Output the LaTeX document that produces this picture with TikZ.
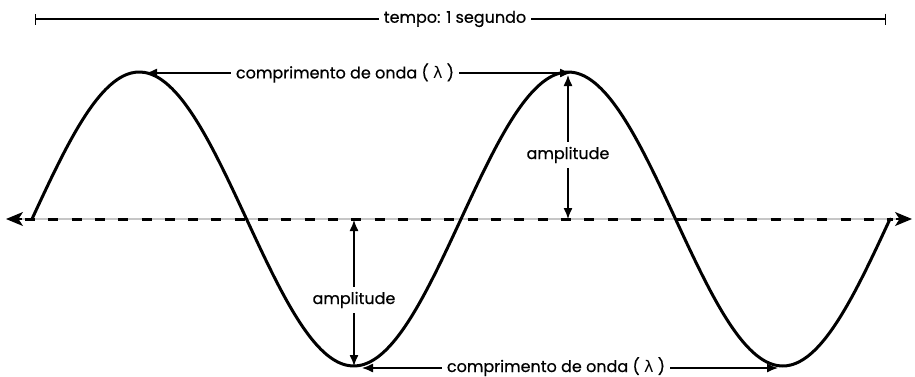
\documentclass[tikz,border=0pt]{standalone}
\usepackage{fontspec}
\setmainfont{Poppins}[FakeBold=0.6]
\newfontfamily\gk{DejaVu Sans}
\usetikzlibrary{arrows.meta}
\tikzset{axtip/.tip={Stealth[length=17pt,width=14pt,inset=4.5pt,line width=1.5pt]}}
\begin{document}
\begin{tikzpicture}[x=1pt,y=-1pt,
  lbl/.style={inner sep=5pt, font=\fontsize{16}{18}\selectfont},
  arr/.style={line width=1.3pt, -{Latex[length=11pt,width=9pt]}},
  bararr/.style={line width=1.3pt, -{Bar[width=11pt,line width=1.3pt]}},
  wave/.style={line width=3pt},
  dashline/.style={line width=3pt, dash pattern=on 10pt off 13.3pt}]
\useasboundingbox (0,0) rectangle (915,376);
% axis
\coordinate (a1) at (6,219);
\coordinate (a2) at (912,219);
\draw[black, line width=1.2pt, axtip-axtip] (a1) -- (a2);
\draw[gray!45, line width=1.3pt] (22,219) -- (896,219);
\draw[dashline] (25,219) -- (893,219);
% wave
\draw[wave, line cap=round] plot[domain=0:858, samples=200, smooth] ({32+\x}, {219-147*sin(\x/429*360)});
% key points
\coordinate (p1) at (146,73);
\coordinate (p2) at (571,73);
\coordinate (c2) at (568,219);
\coordinate (p2b) at (568,75);
\coordinate (c1) at (354,220);
\coordinate (t1) at (354,366);
\coordinate (t1b) at (362,368);
\coordinate (t2) at (778,368);
\coordinate (e1) at (35,19);
\coordinate (e2) at (886,19);
% top bar
\node[lbl] (T) at (455,19) {tempo: 1 segundo};
\draw[bararr] (T.west) -- (e1);
\draw[bararr] (T.east) -- (e2);
% wavelength top
\node[lbl] (L1) at (345,73) {comprimento de onda ( {\gk λ} )};
\draw[arr] (L1.west) -- (p1);
\draw[arr] (L1.east) -- (p2);
% wavelength bottom
\node[lbl, anchor=base, inner ysep=1pt] (L2) at (556,372) {comprimento de onda ( {\gk λ} )};
\draw[arr] (L2.west |- t1b) -- (t1b);
\draw[arr] (L2.east |- t2) -- (t2);
% amplitudes
\node[lbl] (A2) at (568,155) {amplitude};
\draw[arr] (A2.north) -- (p2b);
\draw[arr] (A2.south) -- (c2);
\node[lbl] (A1) at (354,300) {amplitude};
\draw[arr] (A1.north) -- (c1);
\draw[arr] (A1.south) -- (t1);
\end{tikzpicture}
\end{document}
